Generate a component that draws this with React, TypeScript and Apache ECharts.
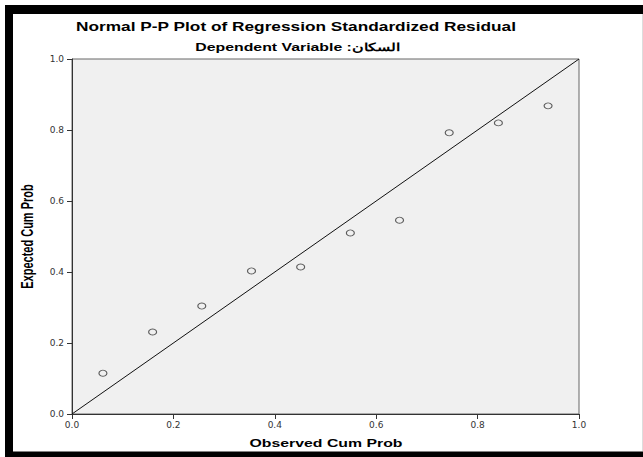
import React, { useEffect, useRef } from "react";
import * as echarts from "echarts";

const observedCumProb = [0.061, 0.159, 0.256, 0.354, 0.451, 0.549, 0.646, 0.744, 0.841, 0.939];
const expectedCumProb = [0.115, 0.231, 0.304, 0.403, 0.414, 0.51, 0.546, 0.792, 0.82, 0.868];
const referenceLine = [
  [0, 0],
  [1, 1],
];
const titleText = "Normal P-P Plot of Regression Standardized Residual";
const subtitleText = "Dependent Variable :السكان";
const xAxisName = "Observed Cum Prob";
const yAxisName = "Expected Cum Prob";

const STRETCH = 1.44;
const FONT = '"Liberation Sans", Arial, Helvetica, sans-serif';

export default function App() {
  const ref = useRef<HTMLDivElement>(null);
  useEffect(() => {
    if (!ref.current) return;
    const chart = echarts.init(ref.current, null, { renderer: "svg" });
    const points = observedCumProb.map((x, i) => [x, expectedCumProb[i]]);
    const txt = (text: string, x: number, y: number, size: number, extra: any = {}) => ({
      type: "text",
      x,
      y,
      z: 10,
      scaleX: extra.scaleX ?? STRETCH,
      scaleY: extra.scaleY ?? 1,
      rotation: extra.rotation ?? 0,
      style: {
        text,
        x: 0,
        y: 0,
        fontSize: size,
        fontWeight: "bold",
        fontFamily: FONT,
        fill: "#000",
        align: "center",
        verticalAlign: "middle",
        textAlign: "center",
        textVerticalAlign: "middle",
      },
    });
    chart.setOption({
      animation: false,
      backgroundColor: "#fff",
      graphic: [
        { type: "rect", z: -10, shape: { x: 5, y: 5, width: 638, height: 452 }, style: { fill: "#000" } },
        { type: "rect", z: -9, shape: { x: 13, y: 14, width: 630, height: 437.5 }, style: { fill: "#fff" } },
        { type: "line", z: -8, shape: { x1: 642.5, y1: 14, x2: 642.5, y2: 451 }, style: { stroke: "#ddd", lineWidth: 1 } },
        txt(titleText, 296, 26.5, 12),
        txt(subtitleText, 298, 47, 11),
        txt(xAxisName, 326, 443, 11),
        txt(yAxisName, 28, 236.5, 11, { scaleX: 1, scaleY: STRETCH, rotation: Math.PI / 2 }),
      ],
      grid: {
        left: 72,
        right: 64,
        top: 59,
        bottom: 43,
        show: true,
        backgroundColor: "#f0f0f0",
        borderColor: "#666",
        borderWidth: 1,
      },
      xAxis: {
        type: "value",
        min: 0,
        max: 1,
        interval: 0.2,
        splitLine: { show: false },
        axisLine: { show: true, onZero: false, lineStyle: { color: "#333", width: 1 } },
        axisTick: { show: true, length: 5, lineStyle: { color: "#333" } },
        axisLabel: {
          margin: 6,
          fontSize: 9,
          fontFamily: '"DejaVu Sans", Verdana, sans-serif',
          color: "#333",
          formatter: (v: number) => v.toFixed(1),
        },
      },
      yAxis: {
        type: "value",
        min: 0,
        max: 1,
        interval: 0.2,
        splitLine: { show: false },
        axisLine: { show: true, onZero: false, lineStyle: { color: "#333", width: 1 } },
        axisTick: { show: true, length: 5, lineStyle: { color: "#333" } },
        axisLabel: {
          margin: 8,
          fontSize: 9,
          fontFamily: '"DejaVu Sans", Verdana, sans-serif',
          color: "#333",
          formatter: (v: number) => v.toFixed(1),
        },
      },
      series: [
        {
          type: "line",
          data: referenceLine,
          symbol: "none",
          lineStyle: { color: "#111", width: 1 },
          silent: true,
        },
        {
          type: "scatter",
          data: points,
          symbol: "circle",
          symbolSize: [8, 6],
          itemStyle: { color: "rgba(0,0,0,0)", borderColor: "#333", borderWidth: 1 },
        },
      ],
    });
    return () => chart.dispose();
  }, []);
  return (
    <div
      ref={ref}
      style={{ position: "fixed", left: 0, top: 0, width: 643, height: 457 }}
    />
  );
}
